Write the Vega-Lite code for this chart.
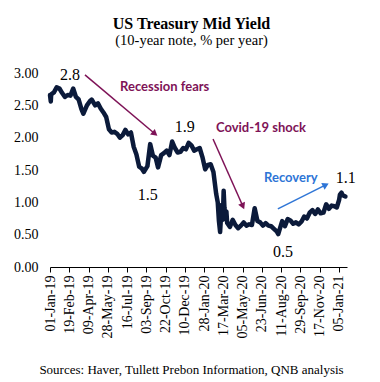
{
  "$schema": "https://vega.github.io/schema/vega-lite/v6.json",
  "width": 297,
  "height": 194,
  "autosize": {"type": "none"},
  "padding": {"left": 50, "top": 73, "right": 33, "bottom": 115},
  "background": "white",
  "title": {
    "text": "US Treasury Mid Yield",
    "subtitle": "(10-year note, % per year)",
    "anchor": "middle",
    "dx": -7,
    "font": "Liberation Serif",
    "fontSize": 16,
    "fontWeight": "bold",
    "color": "#000000",
    "subtitleFont": "Liberation Serif",
    "subtitleFontSize": 14.5,
    "subtitleColor": "#000000",
    "subtitlePadding": 2,
    "offset": 19
  },
  "config": {
    "view": {"stroke": null},
    "axis": {"labelFont": "Liberation Serif", "labelFontSize": 14, "labelColor": "#000000", "grid": false}
  },
  "datasets": {
    "yield": [
      {"date": "2019-01-01", "value": 2.66},
      {"date": "2019-01-03", "value": 2.56},
      {"date": "2019-01-04", "value": 2.67},
      {"date": "2019-01-11", "value": 2.70},
      {"date": "2019-01-18", "value": 2.78},
      {"date": "2019-01-25", "value": 2.76},
      {"date": "2019-02-01", "value": 2.69},
      {"date": "2019-02-08", "value": 2.63},
      {"date": "2019-02-15", "value": 2.66},
      {"date": "2019-02-22", "value": 2.65},
      {"date": "2019-03-01", "value": 2.76},
      {"date": "2019-03-08", "value": 2.63},
      {"date": "2019-03-15", "value": 2.59},
      {"date": "2019-03-22", "value": 2.44},
      {"date": "2019-03-27", "value": 2.37},
      {"date": "2019-04-05", "value": 2.50},
      {"date": "2019-04-12", "value": 2.56},
      {"date": "2019-04-17", "value": 2.59},
      {"date": "2019-04-26", "value": 2.50},
      {"date": "2019-05-03", "value": 2.53},
      {"date": "2019-05-10", "value": 2.45},
      {"date": "2019-05-17", "value": 2.39},
      {"date": "2019-05-24", "value": 2.32},
      {"date": "2019-05-31", "value": 2.13},
      {"date": "2019-06-07", "value": 2.08},
      {"date": "2019-06-14", "value": 2.09},
      {"date": "2019-06-21", "value": 2.06},
      {"date": "2019-06-28", "value": 2.00},
      {"date": "2019-07-05", "value": 2.04},
      {"date": "2019-07-12", "value": 2.12},
      {"date": "2019-07-19", "value": 2.05},
      {"date": "2019-07-26", "value": 2.08},
      {"date": "2019-08-02", "value": 1.86},
      {"date": "2019-08-09", "value": 1.74},
      {"date": "2019-08-16", "value": 1.55},
      {"date": "2019-08-23", "value": 1.52},
      {"date": "2019-08-28", "value": 1.47},
      {"date": "2019-09-06", "value": 1.56},
      {"date": "2019-09-13", "value": 1.90},
      {"date": "2019-09-20", "value": 1.72},
      {"date": "2019-09-27", "value": 1.69},
      {"date": "2019-10-03", "value": 1.54},
      {"date": "2019-10-11", "value": 1.73},
      {"date": "2019-10-18", "value": 1.76},
      {"date": "2019-10-25", "value": 1.80},
      {"date": "2019-11-01", "value": 1.73},
      {"date": "2019-11-08", "value": 1.94},
      {"date": "2019-11-15", "value": 1.84},
      {"date": "2019-11-22", "value": 1.77},
      {"date": "2019-11-29", "value": 1.78},
      {"date": "2019-12-06", "value": 1.84},
      {"date": "2019-12-13", "value": 1.82},
      {"date": "2019-12-20", "value": 1.92},
      {"date": "2019-12-27", "value": 1.88},
      {"date": "2020-01-03", "value": 1.80},
      {"date": "2020-01-10", "value": 1.82},
      {"date": "2020-01-17", "value": 1.84},
      {"date": "2020-01-24", "value": 1.70},
      {"date": "2020-01-31", "value": 1.51},
      {"date": "2020-02-07", "value": 1.58},
      {"date": "2020-02-14", "value": 1.59},
      {"date": "2020-02-21", "value": 1.47},
      {"date": "2020-02-28", "value": 1.13},
      {"date": "2020-03-03", "value": 1.00},
      {"date": "2020-03-06", "value": 0.71},
      {"date": "2020-03-09", "value": 0.54},
      {"date": "2020-03-13", "value": 0.96},
      {"date": "2020-03-16", "value": 0.73},
      {"date": "2020-03-18", "value": 1.18},
      {"date": "2020-03-20", "value": 0.92},
      {"date": "2020-03-23", "value": 0.76},
      {"date": "2020-03-25", "value": 0.86},
      {"date": "2020-03-27", "value": 0.68},
      {"date": "2020-04-03", "value": 0.62},
      {"date": "2020-04-10", "value": 0.73},
      {"date": "2020-04-17", "value": 0.65},
      {"date": "2020-04-24", "value": 0.60},
      {"date": "2020-05-01", "value": 0.64},
      {"date": "2020-05-08", "value": 0.69},
      {"date": "2020-05-15", "value": 0.64},
      {"date": "2020-05-22", "value": 0.66},
      {"date": "2020-05-29", "value": 0.65},
      {"date": "2020-06-05", "value": 0.91},
      {"date": "2020-06-12", "value": 0.71},
      {"date": "2020-06-19", "value": 0.69},
      {"date": "2020-06-26", "value": 0.64},
      {"date": "2020-07-03", "value": 0.68},
      {"date": "2020-07-10", "value": 0.64},
      {"date": "2020-07-17", "value": 0.63},
      {"date": "2020-07-24", "value": 0.59},
      {"date": "2020-07-31", "value": 0.55},
      {"date": "2020-08-04", "value": 0.51},
      {"date": "2020-08-07", "value": 0.57},
      {"date": "2020-08-14", "value": 0.71},
      {"date": "2020-08-21", "value": 0.63},
      {"date": "2020-08-28", "value": 0.74},
      {"date": "2020-09-04", "value": 0.72},
      {"date": "2020-09-11", "value": 0.67},
      {"date": "2020-09-18", "value": 0.69},
      {"date": "2020-09-25", "value": 0.66},
      {"date": "2020-10-02", "value": 0.70},
      {"date": "2020-10-09", "value": 0.78},
      {"date": "2020-10-16", "value": 0.75},
      {"date": "2020-10-23", "value": 0.84},
      {"date": "2020-10-30", "value": 0.88},
      {"date": "2020-11-06", "value": 0.82},
      {"date": "2020-11-13", "value": 0.89},
      {"date": "2020-11-20", "value": 0.83},
      {"date": "2020-11-27", "value": 0.84},
      {"date": "2020-12-04", "value": 0.97},
      {"date": "2020-12-11", "value": 0.90},
      {"date": "2020-12-18", "value": 0.95},
      {"date": "2020-12-25", "value": 0.94},
      {"date": "2020-12-31", "value": 0.92},
      {"date": "2021-01-06", "value": 1.04},
      {"date": "2021-01-08", "value": 1.12},
      {"date": "2021-01-12", "value": 1.15},
      {"date": "2021-01-15", "value": 1.11},
      {"date": "2021-01-22", "value": 1.09}
    ],
    "numbers": [
      {"label": "2.8", "date": "2019-02-21", "value": 2.97},
      {"label": "1.5", "date": "2019-09-07", "value": 1.11},
      {"label": "1.9", "date": "2019-12-10", "value": 2.16},
      {"label": "0.5", "date": "2020-08-16", "value": 0.23},
      {"label": "1.1", "date": "2021-01-23", "value": 1.38}
    ],
    "notes": [
      {"label": "Recession fears", "date": "2019-10-20", "value": 2.78},
      {"label": "Covid-19 shock", "date": "2020-06-21", "value": 2.15},
      {"label": "Recovery", "date": "2020-09-05", "value": 1.38}
    ],
    "arrows": [
      {"label": "Recession fears", "date": "2019-03-31", "value": 2.97, "date2": "2019-09-25", "value2": 2.06},
      {"label": "Covid-19 shock", "date": "2020-02-20", "value": 1.98, "date2": "2020-05-06", "value2": 0.94},
      {"label": "Recovery", "date": "2020-08-03", "value": 0.90, "date2": "2020-12-03", "value2": 1.27}
    ]
  },
  "encoding": {
    "x": {
      "field": "date",
      "type": "temporal",
      "scale": {"type": "utc", "domain": [1546300800000, 1611619200000]},
      "axis": {
        "title": "Sources: Haver, Tullett Prebon Information, QNB analysis",
        "titleFont": "Liberation Serif",
        "titleFontSize": 13,
        "titleFontWeight": "normal",
        "titleColor": "#000000",
        "titleX": 141,
        "titlePadding": 26,
        "values": [1546300800000, 1550534400000, 1554768000000, 1559001600000, 1563235200000, 1567468800000, 1571702400000, 1575936000000, 1580169600000, 1584403200000, 1588636800000, 1592870400000, 1597104000000, 1601337600000, 1605571200000, 1609804800000],
        "format": "%d-%b-%y",
        "labelAngle": -90,
        "labelAlign": "right",
        "labelBaseline": "middle",
        "labelPadding": 3,
        "labelFlush": false,
        "labelOverlap": false,
        "domainColor": "#000000",
        "tickColor": "#000000",
        "tickSize": 5
      }
    },
    "y": {
      "field": "value",
      "type": "quantitative",
      "scale": {"domain": [0, 3], "nice": false},
      "axis": {
        "title": null,
        "values": [0, 0.5, 1, 1.5, 2, 2.5, 3],
        "format": ".2f",
        "domain": false,
        "ticks": false,
        "labelPadding": 12
      }
    }
  },
  "layer": [
    {
      "data": {"name": "yield"},
      "mark": {"type": "line", "color": "#0b1a3a", "strokeWidth": 4.5, "strokeJoin": "round", "strokeCap": "round"}
    },
    {
      "data": {"name": "arrows"},
      "mark": {"type": "rule", "strokeWidth": 1.5},
      "encoding": {
        "x2": {"field": "date2"},
        "y2": {"field": "value2"},
        "color": {"field": "label", "type": "nominal", "scale": {"domain": ["Recession fears", "Covid-19 shock", "Recovery"], "range": ["#7e1357", "#7e1357", "#2e75d6"]}, "legend": null}
      }
    },
    {
      "data": {"name": "arrows"},
      "transform": [{"filter": "datum.label === 'Recession fears'"}],
      "mark": {"type": "point", "shape": "triangle-up", "filled": true, "opacity": 1, "size": 55, "angle": 130},
      "encoding": {
        "x": {"field": "date2", "type": "temporal"},
        "y": {"field": "value2", "type": "quantitative"},
        "color": {"field": "label", "type": "nominal", "legend": null}
      }
    },
    {
      "data": {"name": "arrows"},
      "transform": [{"filter": "datum.label === 'Covid-19 shock'"}],
      "mark": {"type": "point", "shape": "triangle-up", "filled": true, "opacity": 1, "size": 55, "angle": 156},
      "encoding": {
        "x": {"field": "date2", "type": "temporal"},
        "y": {"field": "value2", "type": "quantitative"},
        "color": {"field": "label", "type": "nominal", "legend": null}
      }
    },
    {
      "data": {"name": "arrows"},
      "transform": [{"filter": "datum.label === 'Recovery'"}],
      "mark": {"type": "point", "shape": "triangle-up", "filled": true, "opacity": 1, "size": 55, "angle": 63},
      "encoding": {
        "x": {"field": "date2", "type": "temporal"},
        "y": {"field": "value2", "type": "quantitative"},
        "color": {"field": "label", "type": "nominal", "legend": null}
      }
    },
    {
      "data": {"name": "numbers"},
      "mark": {"type": "text", "font": "Liberation Serif", "fontSize": 16, "color": "#000000", "baseline": "middle", "align": "center"},
      "encoding": {"text": {"field": "label"}}
    },
    {
      "data": {"name": "notes"},
      "mark": {"type": "text", "font": "Lato", "fontWeight": "bold", "fontSize": 13, "baseline": "middle", "align": "center"},
      "encoding": {
        "text": {"field": "label"},
        "color": {"field": "label", "type": "nominal", "legend": null}
      }
    }
  ]
}
